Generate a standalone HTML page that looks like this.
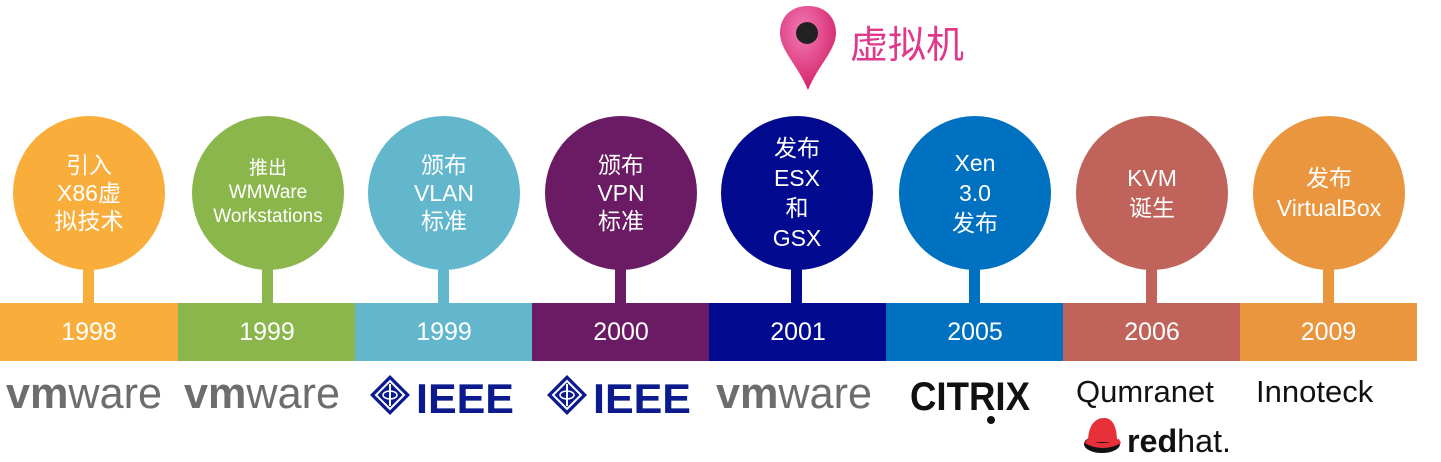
<!DOCTYPE html>
<html><head><meta charset="utf-8"><style>
html,body{margin:0;padding:0;background:#fff;}
body{width:1441px;height:462px;position:relative;overflow:hidden;font-family:"Liberation Sans","Noto Sans CJK SC",sans-serif;}
.c{position:absolute;width:152px;height:154px;border-radius:50%;top:116px;display:flex;align-items:center;justify-content:center;text-align:center;color:#fff;font-size:23px;line-height:28px;}
.s{position:absolute;width:11px;top:266px;height:40px;}
.b{position:absolute;top:303px;height:58px;width:178px;color:#fff;font-size:25px;line-height:58px;text-align:center;}
.ieee{position:absolute;top:372px;}
.t{position:absolute;font-size:31px;color:#111;top:374px;}
</style></head><body>

<svg style="position:absolute;left:775px;top:2px" width="70" height="95" viewBox="0 0 70 95">
<defs><radialGradient id="g" cx="0.4" cy="0.3" r="0.8"><stop offset="0" stop-color="#f27ab5"/><stop offset="1" stop-color="#d0185f"/></radialGradient></defs>
<path d="M33 4 C14 4 5 17 5 31 C5 48 22 62 33 88 C44 62 61 48 61 31 C61 17 52 4 33 4Z" fill="url(#g)"/>
<circle cx="32" cy="31" r="11" fill="#222"/>
</svg>
<div style="position:absolute;left:850px;top:14px;font-size:38px;color:#e0388a;">虚拟机</div>

<div class="c" style="left:13px;background:#f9ae3c">引入<br>X86虚<br>拟技术</div>
<div class="c" style="left:192px;background:#8ab64b;font-size:19px;line-height:24px">推出<br>WMWare<br>Workstations</div>
<div class="c" style="left:368px;background:#62b7cd">颁布<br>VLAN<br>标准</div>
<div class="c" style="left:545px;background:#6a1b64">颁布<br>VPN<br>标准</div>
<div class="c" style="left:721px;background:#020a8f;line-height:30px">发布<br>ESX<br>和<br>GSX</div>
<div class="c" style="left:899px;background:#0070c0;line-height:30px">Xen<br>3.0<br>发布</div>
<div class="c" style="left:1076px;background:#c0635a;line-height:30px">KVM<br>诞生</div>
<div class="c" style="left:1253px;background:#ea963e;line-height:30px">发布<br>VirtualBox</div>

<div class="s" style="left:83px;background:#f9ae3c"></div>
<div class="s" style="left:262px;background:#8ab64b"></div>
<div class="s" style="left:438px;background:#62b7cd"></div>
<div class="s" style="left:615px;background:#6a1b64"></div>
<div class="s" style="left:791px;background:#020a8f"></div>
<div class="s" style="left:969px;background:#0070c0"></div>
<div class="s" style="left:1146px;background:#c0635a"></div>
<div class="s" style="left:1323px;background:#ea963e"></div>

<div class="b" style="left:0;background:#f9ae3c">1998</div>
<div class="b" style="left:178px;background:#8ab64b">1999</div>
<div class="b" style="left:355px;background:#62b7cd">1999</div>
<div class="b" style="left:532px;background:#6a1b64">2000</div>
<div class="b" style="left:709px;background:#020a8f">2001</div>
<div class="b" style="left:886px;background:#0070c0">2005</div>
<div class="b" style="left:1063px;background:#c0635a">2006</div>
<div class="b" style="left:1240px;background:#ea963e;width:177px">2009</div>

<svg style="position:absolute;left:6px;top:370px" width="160" height="45"><text x="0" y="38" font-family="Liberation Sans" font-size="44" fill="#6e6c6c" textLength="156" lengthAdjust="spacingAndGlyphs"><tspan font-weight="bold">vm</tspan>ware</text></svg>
<svg style="position:absolute;left:184px;top:370px" width="160" height="45"><text x="0" y="38" font-family="Liberation Sans" font-size="44" fill="#6e6c6c" textLength="156" lengthAdjust="spacingAndGlyphs"><tspan font-weight="bold">vm</tspan>ware</text></svg>
<svg style="position:absolute;left:716px;top:370px" width="160" height="45"><text x="0" y="38" font-family="Liberation Sans" font-size="44" fill="#6e6c6c" textLength="156" lengthAdjust="spacingAndGlyphs"><tspan font-weight="bold">vm</tspan>ware</text></svg>

<svg class="ieee" style="left:368px" width="150" height="48" viewBox="0 0 150 48">
<polygon points="22,3 42,23 22,43 2,23" fill="#0b1a8c"/>
<polygon points="22,9 36,23 22,37 8,23" fill="none" stroke="#fff" stroke-width="2"/>
<ellipse cx="22" cy="23" rx="7" ry="4" fill="none" stroke="#fff" stroke-width="1.5"/>
<line x1="22" y1="12" x2="22" y2="34" stroke="#fff" stroke-width="2"/>
<text x="48" y="41" font-family="Liberation Sans" font-weight="bold" font-size="42" fill="#0b1a8c" textLength="98" lengthAdjust="spacingAndGlyphs">IEEE</text>
</svg>
<svg class="ieee" style="left:545px" width="150" height="48" viewBox="0 0 150 48">
<polygon points="22,3 42,23 22,43 2,23" fill="#0b1a8c"/>
<polygon points="22,9 36,23 22,37 8,23" fill="none" stroke="#fff" stroke-width="2"/>
<ellipse cx="22" cy="23" rx="7" ry="4" fill="none" stroke="#fff" stroke-width="1.5"/>
<line x1="22" y1="12" x2="22" y2="34" stroke="#fff" stroke-width="2"/>
<text x="48" y="41" font-family="Liberation Sans" font-weight="bold" font-size="42" fill="#0b1a8c" textLength="98" lengthAdjust="spacingAndGlyphs">IEEE</text>
</svg>

<svg style="position:absolute;left:908px;top:370px" width="130" height="56" viewBox="0 0 130 56">
<text x="2" y="40" font-family="Liberation Sans" font-weight="bold" font-size="40" fill="#111" textLength="120" lengthAdjust="spacingAndGlyphs">CITRIX</text>
<circle cx="83" cy="50" r="4" fill="#111"/>
</svg>

<div class="t" style="left:1076px">Qumranet</div>
<div class="t" style="left:1256px">Innoteck</div>

<svg style="position:absolute;left:1083px;top:414px" width="155" height="46" viewBox="0 0 155 46">
<ellipse cx="19" cy="30" rx="18" ry="9" fill="#111"/>
<path d="M5 28 C5 10 13 4 21 4 C30 4 34 13 34 28 Z" fill="#e8303a"/>
<path d="M3 27 Q19 36 37 27" stroke="#e8303a" stroke-width="5" fill="none"/>
<text x="44" y="38" font-family="Liberation Sans" font-size="32" fill="#111" textLength="104" lengthAdjust="spacingAndGlyphs"><tspan font-weight="bold">red</tspan>hat.</text>
</svg>

</body></html>
